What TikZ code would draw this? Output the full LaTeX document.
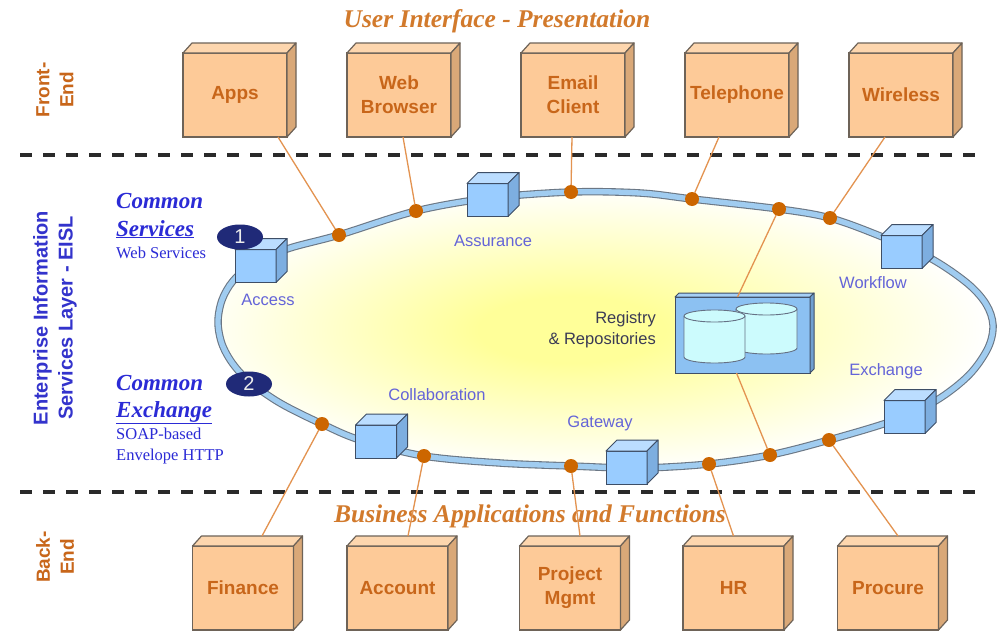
\documentclass[tikz,border=0pt]{standalone}
\usepackage{fontspec}
\setmainfont{Liberation Serif}
\setsansfont{Liberation Sans}
\usetikzlibrary{calc,shapes.geometric}
\definecolor{titleor}{HTML}{D27A2C}
\definecolor{boxtxt}{HTML}{C8661A}
\definecolor{pfront}{HTML}{FDCA98}
\definecolor{ptop}{HTML}{FDD6AE}
\definecolor{pside}{HTML}{D9A878}
\definecolor{pline}{HTML}{6E6358}
\definecolor{cfront}{HTML}{99CCFF}
\definecolor{ctop}{HTML}{BBDDFF}
\definecolor{cside}{HTML}{7DAEE0}
\definecolor{cline}{HTML}{3E4E66}
\definecolor{rfront}{HTML}{8CC1F2}
\definecolor{rtop}{HTML}{A6D0F6}
\definecolor{rside}{HTML}{6F9FD0}
\definecolor{rline}{HTML}{3E4E66}
\definecolor{cylfill}{HTML}{CCFBFD}
\definecolor{dotc}{HTML}{CC6600}
\definecolor{connc}{HTML}{E39350}
\definecolor{ringblue}{HTML}{A0CCF0}
\definecolor{ringedge}{HTML}{6B7785}
\definecolor{eisl}{HTML}{3333CC}
\definecolor{csblue}{HTML}{2B2BD6}
\definecolor{lblblue}{HTML}{6464D8}
\definecolor{regtxt}{HTML}{3A3A55}
\definecolor{badgec}{HTML}{202A78}
\definecolor{glowc}{HTML}{FFFF99}
\colorlet{glowm}{glowc!45!white}
\definecolor{sepc}{HTML}{2A2A2A}
\pgfdeclareradialshading{glow}{\pgfpoint{-2.5bp}{0bp}}{color(0bp)=(glowc); color(6bp)=(glowc); color(17bp)=(glowm); color(26bp)=(white); color(50bp)=(white)}
\newcommand\mkfaces[5]{%
  \filldraw[fill=#4top,draw=#4line,line width=#5,line join=round] (#1.north west) -- ++(#2,#3) -- ($(#1.north east)+(#2,#3)$) -- (#1.north east) -- cycle;
  \filldraw[fill=#4side,draw=#4line,line width=#5,line join=round] (#1.north east) -- ++(#2,#3) -- ($(#1.south east)+(#2,#3)$) -- (#1.south east) -- cycle;
}
\newcommand\mkcyl[5]{% x1, x2, ytop, ybottom, xradius
  \filldraw[fill=cylfill,draw=cline!80,line width=0.9pt] (#1,#3) -- (#1,#4) arc[start angle=180,end angle=360,x radius=#5,y radius=6pt] -- (#2,#3) arc[start angle=0,end angle=180,x radius=#5,y radius=6pt] -- cycle;
  \draw[cline!80,line width=0.9pt] (#1,#3) arc[start angle=180,end angle=360,x radius=#5,y radius=6pt];
}
\begin{document}
\begin{tikzpicture}[x=1pt,y=-1pt,
  pbox/.style={draw=pline,fill=pfront,line width=1.2pt,minimum width=104pt,minimum height=84pt,inner sep=0pt,outer sep=0pt,align=center,text=boxtxt,font=\sffamily\bfseries\fontsize{19}{24}\selectfont},
  bpbox/.style={pbox,minimum width=101pt},
  cube/.style={draw=cline,fill=cfront,line width=1pt,minimum width=41pt,minimum height=33pt,inner sep=0pt,outer sep=0pt},
  regbox/.style={draw=rline,fill=rfront,line width=1pt,minimum width=135pt,minimum height=76pt,inner sep=0pt,outer sep=0pt},
  dot/.style={circle,fill=dotc,minimum size=14pt,inner sep=0pt,outer sep=0pt},
  conn/.style={draw=connc,line width=1.3pt},
  lbl/.style={text=lblblue,font=\sffamily\fontsize{16.5}{21}\selectfont,inner sep=0pt},
  ttl/.style={text=titleor,font=\rmfamily\bfseries\itshape\fontsize{25.5}{30}\selectfont,inner sep=0pt},
  sidelbl/.style={rotate=90,align=center,inner sep=0pt,font=\sffamily\bfseries\fontsize{19}{24}\selectfont},
  csbig/.style={anchor=base west,inner sep=0pt,text=csblue,font=\rmfamily\bfseries\itshape\fontsize{23}{27}\selectfont},
  cssmall/.style={anchor=base west,inner sep=0pt,text=csblue,font=\rmfamily\fontsize{16.5}{20}\selectfont},
  badge/.style={ellipse,fill=badgec,minimum width=46pt,minimum height=25pt,inner sep=0pt,text=gray!15,font=\sffamily\fontsize{20}{20}\selectfont},
  sep/.style={draw=sepc,line width=4pt,dash pattern=on 12pt off 11pt}]
\fill[white] (0,0) rectangle (997,632);
\useasboundingbox (0,0) rectangle (997,632);
% glow and ring
\shade[shading=glow] plot[smooth cycle,tension=0.55] coordinates {(218,322) (222,300) (233,281) (252,265) (287,249) (339,235) (416,211) (490,198) (571,192) (640,193) (692,199) (779,209) (830,218) (880,236) (930,258) (967,283) (986,304) (993,325) (988,348) (969,375) (937,400) (895,420) (829,440) (770,455) (709,464) (640,468) (571,466) (500,463) (424,456) (360,440) (322,424) (280,403) (250,382) (233,364) (222,344)};
\draw[ringedge,line width=7.5pt] plot[smooth cycle,tension=0.55] coordinates {(218,322) (222,300) (233,281) (252,265) (287,249) (339,235) (416,211) (490,198) (571,192) (640,193) (692,199) (779,209) (830,218) (880,236) (930,258) (967,283) (986,304) (993,325) (988,348) (969,375) (937,400) (895,420) (829,440) (770,455) (709,464) (640,468) (571,466) (500,463) (424,456) (360,440) (322,424) (280,403) (250,382) (233,364) (222,344)};
\draw[ringblue,line width=5.3pt] plot[smooth cycle,tension=0.55] coordinates {(218,322) (222,300) (233,281) (252,265) (287,249) (339,235) (416,211) (490,198) (571,192) (640,193) (692,199) (779,209) (830,218) (880,236) (930,258) (967,283) (986,304) (993,325) (988,348) (969,375) (937,400) (895,420) (829,440) (770,455) (709,464) (640,468) (571,466) (500,463) (424,456) (360,440) (322,424) (280,403) (250,382) (233,364) (222,344)};
% separators
\coordinate (s1a) at (20,155); \coordinate (s1b) at (985,155);
\coordinate (s2a) at (20,492); \coordinate (s2b) at (985,492);
\draw[sep] (s1a) -- (s1b);
\draw[sep] (s2a) -- (s2b);
% titles
\node[ttl] (title) at (497,21) {User Interface - Presentation};
\node[ttl] (btitle) at (530,516) {Business Applications and Functions};
\node[sidelbl,text=boxtxt] (fe) at (55,90) {Front-\\End};
\node[sidelbl,text=boxtxt] (be) at (55,557) {Back-\\End};
\node[sidelbl,text=eisl,font=\sffamily\bfseries\fontsize{20}{25}\selectfont] (eislt) at (55,318) {Enterprise Information\\Services Layer - EISL};
\node[csbig] (cs1) at (116,208) {Common};
\node[csbig] (cs2) at (116,236) {\underline{Services}};
\node[cssmall] (cs3) at (116,258) {Web Services};
\node[csbig] (ce1) at (116,390) {Common};
\node[csbig] (ce2) at (116,417) {\underline{Exchange}};
\node[cssmall] (ce3) at (116,439) {SOAP-based};
\node[cssmall] (ce4) at (116,460) {Envelope HTTP};
% top boxes
\node[pbox] (apps) at (235,95) {Apps};
\node[pbox] (web) at (399,95) {Web\\Browser};
\node[pbox] (email) at (573,95) {Email\\Client};
\node[pbox] (tel) at (737,95) {Telephone};
\node[pbox] (wless) at (901,95) {Wireless};
\mkfaces{apps}{9pt}{10pt}{p}{1.2pt}
\mkfaces{web}{9pt}{10pt}{p}{1.2pt}
\mkfaces{email}{9pt}{10pt}{p}{1.2pt}
\mkfaces{tel}{9pt}{10pt}{p}{1.2pt}
\mkfaces{wless}{9pt}{10pt}{p}{1.2pt}
% bottom boxes
\node[bpbox] (fin) at (243,588) {Finance};
\node[bpbox] (acct) at (397.5,588) {Account};
\node[bpbox] (proj) at (570,588) {Project\\Mgmt};
\node[bpbox] (hr) at (733.5,588) {HR};
\node[bpbox] (proc) at (888,588) {Procure};
\mkfaces{fin}{9pt}{10pt}{p}{1.2pt}
\mkfaces{acct}{9pt}{10pt}{p}{1.2pt}
\mkfaces{proj}{9pt}{10pt}{p}{1.2pt}
\mkfaces{hr}{9pt}{10pt}{p}{1.2pt}
\mkfaces{proc}{9pt}{10pt}{p}{1.2pt}
% registry
\node[regbox] (reg) at (742.5,335) {};
\mkfaces{reg}{4pt}{4pt}{r}{1pt}
\mkcyl{736}{797}{309}{348}{30.5pt}
\mkcyl{684}{745}{316}{357}{30.5pt}
% dots
\node[dot] (dApps) at (339,235) {};
\node[dot] (dWeb) at (416,211) {};
\node[dot] (dEmail) at (571,192) {};
\node[dot] (dTel) at (692,199) {};
\node[dot] (dRegT) at (779,209) {};
\node[dot] (dWl) at (830,218) {};
\node[dot] (dFin) at (322,424) {};
\node[dot] (dAcc) at (424,456) {};
\node[dot] (dProj) at (571,466) {};
\node[dot] (dHR) at (709,464) {};
\node[dot] (dRegB) at (770,455) {};
\node[dot] (dProc) at (829,440) {};
% connectors
\draw[conn] ([xshift=43pt]apps.south) -- (dApps);
\draw[conn] ([xshift=4pt]web.south) -- (dWeb);
\draw[conn] ([xshift=-1pt]email.south) -- (dEmail);
\draw[conn] ([xshift=-18pt]tel.south) -- (dTel);
\draw[conn] ([xshift=-16pt]wless.south) -- (dWl);
\draw[conn] ([xshift=-5pt]reg.north) -- (dRegT);
\draw[conn] ([xshift=-6pt]reg.south) -- (dRegB);
\draw[conn] (dFin) -- ([xshift=19pt,yshift=10pt]fin.north);
\draw[conn] (dAcc) -- ([xshift=10.5pt,yshift=10pt]acct.north);
\draw[conn] (dProj) -- ([xshift=10pt,yshift=10pt]proj.north);
\draw[conn] (dHR) -- ([xshift=0pt,yshift=10pt]hr.north);
\draw[conn] (dProc) -- ([xshift=10pt,yshift=10pt]proc.north);
% cubes
\node[cube] (access) at (255.5,266) {};
\node[cube] (assur) at (487.5,200) {};
\node[cube] (wflow) at (901.5,252) {};
\node[cube] (exch) at (904.5,417) {};
\node[cube] (collab) at (376,441.5) {};
\node[cube] (gate) at (626.5,467.5) {};
\mkfaces{access}{11pt}{11pt}{c}{1pt}
\mkfaces{assur}{11pt}{11pt}{c}{1pt}
\mkfaces{wflow}{11pt}{11pt}{c}{1pt}
\mkfaces{exch}{11pt}{11pt}{c}{1pt}
\mkfaces{collab}{11pt}{11pt}{c}{1pt}
\mkfaces{gate}{11pt}{11pt}{c}{1pt}
% labels
\node[lbl] (lAccess) at (268,300) {Access};
\node[lbl] (lAssur) at (493,241) {Assurance};
\node[lbl] (lWf) at (873,283) {Workflow};
\node[lbl] (lEx) at (886,371) {Exchange};
\node[lbl] (lCol) at (437,395) {Collaboration};
\node[lbl] (lGw) at (600,423) {Gateway};
\node[lbl,text=regtxt,align=right,anchor=east] (lReg) at (656,330) {Registry\\\& Repositories};
% badges
\node[badge] (b1) at (240,237) {1};
\node[badge] (b2) at (249,384) {2};
\end{tikzpicture}
\end{document}
